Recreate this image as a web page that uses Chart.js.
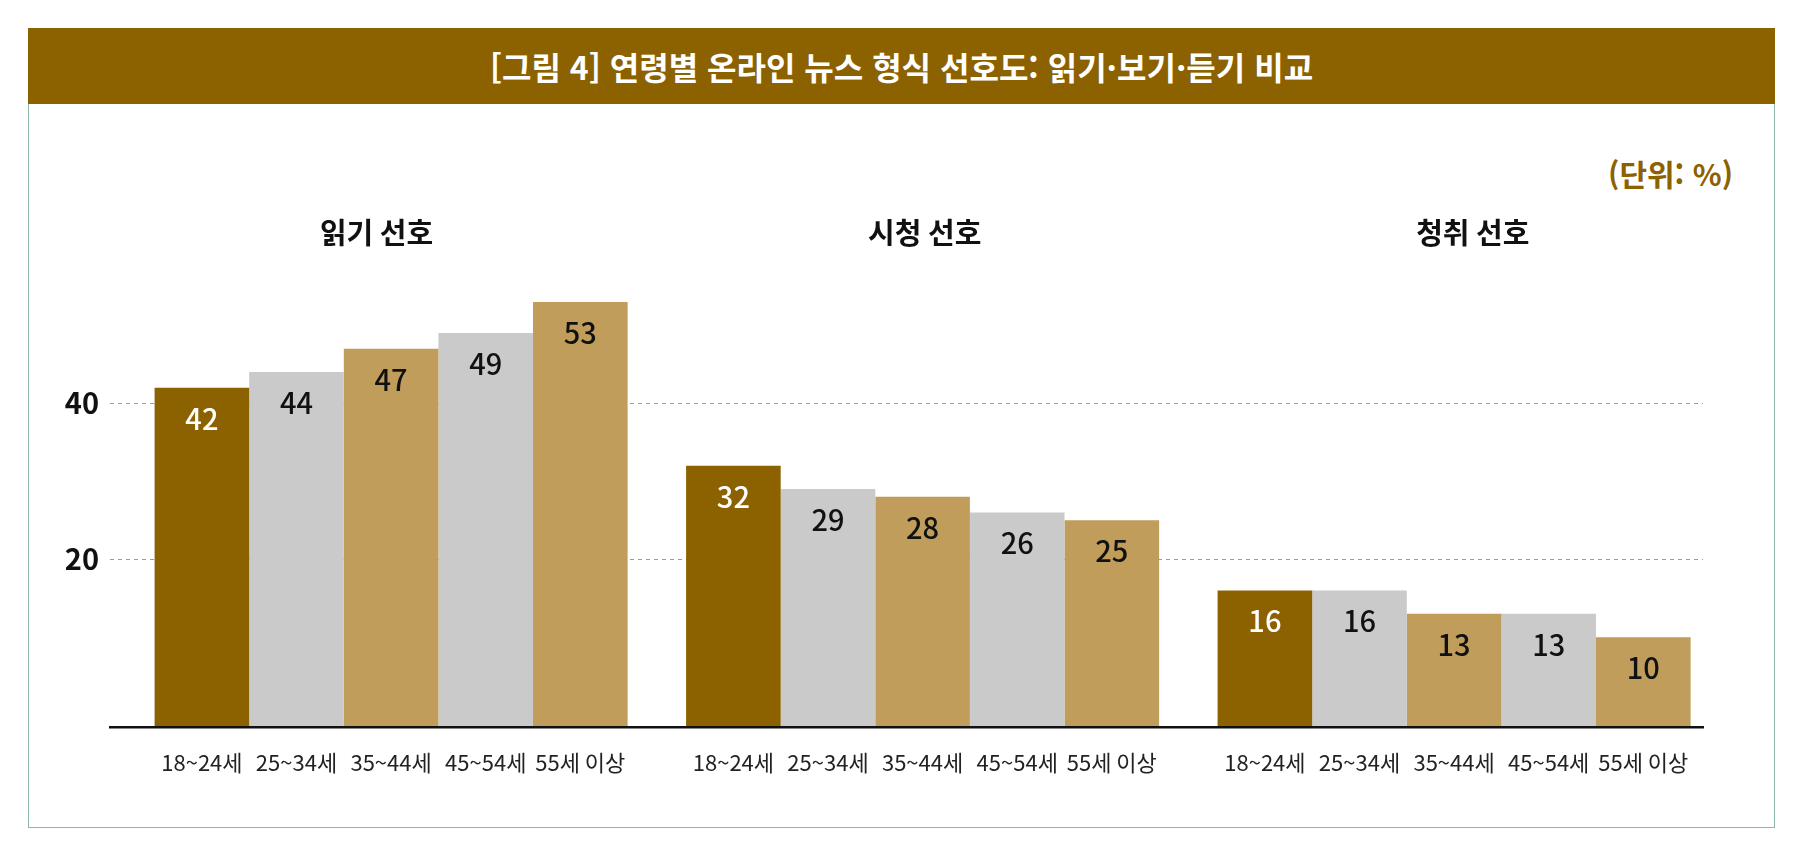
<!DOCTYPE html>
<html lang="ko">
<head>
<meta charset="utf-8">
<script src="https://cdn.jsdelivr.net/npm/chart.js@4.4.1/dist/chart.umd.min.js"></script>
<style>
  body { margin: 0; background: #fff; }
  #wrap { position: relative; width: 1804px; height: 848px; font-family: "Noto Sans CJK KR", "Noto Sans", sans-serif; }
  #frame { position: absolute; left: 28px; top: 28px; width: 1745px; height: 798px; border: 1px solid #8db8a8; }
  #head { position: absolute; left: -1px; right: -1px; top: -1px; height: 76px; background: #8c6200; color: #fff;
          font-weight: 700; font-size: 32px; display: flex; align-items: center; justify-content: center; }
  #unit { position: absolute; right: 71px; top: 155px; line-height: 36px; font-size: 30px; font-weight: 700; color: #8c6200; }
  canvas { position: absolute; left: 0; top: 0; }
</style>
</head>
<body>
<div id="wrap">
  <div id="frame"><div id="head">[그림 4] 연령별 온라인 뉴스 형식 선호도: 읽기·보기·듣기 비교</div></div>
  <div id="unit">(단위: %)</div>
  <canvas id="grafico" width="1804" height="848"></canvas>
</div>
<script>
// groups (x) and age bands (one dataset each)
const grupos = ['읽기 선호', '시청 선호', '청취 선호'];
const edades = ['18~24세', '25~34세', '35~44세', '45~54세', '55세 이상'];

// values per age band, in group order
const v18a24 = [42, 32, 16];
const v25a34 = [44, 29, 16];
const v35a44 = [47, 28, 13];
const v45a54 = [49, 26, 13];
const v55mas = [53, 25, 10];

const ejeY = [20, 40];

const colores = ['#8c6200', '#c9cac9', '#c19d5b', '#c9cac9', '#c19d5b'];
const coloresTexto = ['#ffffff', '#111111', '#111111', '#111111', '#111111'];

const Y_MIN = -1.6;
const FUENTE = '"Noto Sans CJK KR", "Noto Sans", sans-serif';

const valores = [v18a24, v25a34, v35a44, v45a54, v55mas];

let datasets = [];
for (let i = 0; i < edades.length; i++) {
    datasets.push({
        label: edades[i],
        data: valores[i].map((v, j) => ({ x: j, y: v })),
        backgroundColor: colores[i],
        borderWidth: 0,
        barPercentage: 1,
        categoryPercentage: 0.89,
        base: Y_MIN
    });
}

// value inside each bar + age label under it
const textoBarras = {
    id: 'textoBarras',
    afterDatasetsDraw(chart) {
        const ctx = chart.ctx;
        ctx.save();
        ctx.textAlign = 'center';
        ctx.textBaseline = 'middle';
        chart.data.datasets.forEach((ds, i) => {
            chart.getDatasetMeta(i).data.forEach((bar, j) => {
                ctx.font = '500 29px ' + FUENTE;
                ctx.fillStyle = coloresTexto[i];
                ctx.fillText(ds.data[j].y, bar.x, bar.y + 31);
                ctx.font = '400 22px ' + FUENTE;
                ctx.fillStyle = '#222';
                ctx.fillText(ds.label, bar.x, chart.chartArea.bottom + 35);
            });
        });
        ctx.restore();
    }
};

Chart.defaults.font.family = FUENTE;

const ctx = document.getElementById('grafico').getContext('2d');
new Chart(ctx, {
    type: 'bar',
    data: { datasets: datasets },
    options: {
        responsive: false,
        animation: false,
        devicePixelRatio: 1,
        layout: { padding: { left: 0, top: 0, right: 101, bottom: 120.3 } },
        plugins: {
            legend: { display: false },
            tooltip: { enabled: false }
        },
        scales: {
            x: {
                type: 'linear',
                position: 'bottom',
                min: -0.5289,
                max: 2.4683,
                offset: false,
                z: 1,
                afterBuildTicks: s => { s.ticks = grupos.map((g, i) => ({ value: i })); },
                afterFit: s => { s.height = 0; },
                ticks: { display: false },
                grid: { display: false, drawTicks: false, offset: false },
                border: { display: true, color: '#111', width: 2.5, z: 1 }
            },
            x2: {
                type: 'linear',
                position: 'top',
                min: -0.4863,
                max: 2.42,
                offset: false,
                afterBuildTicks: s => { s.ticks = grupos.map((g, i) => ({ value: i })); },
                afterFit: s => { s.height = 247.3; },
                ticks: {
                    padding: 0,
                    maxRotation: 0,
                    color: '#111',
                    font: { size: 29, weight: 'bold', lineHeight: 1.0 },
                    callback: v => grupos[v]
                },
                grid: { display: false, drawTicks: false },
                border: { display: false }
            },
            y: {
                min: Y_MIN,
                max: 60,
                afterBuildTicks: s => { s.ticks = ejeY.map(v => ({ value: v })); },
                afterFit: s => { s.width = 110; },
                ticks: {
                    padding: 11,
                    color: '#111',
                    font: { size: 29, weight: 'bold' }
                },
                grid: { color: '#9a9a9a', lineWidth: 1, drawTicks: false },
                border: { display: false, dash: [4, 4] }
            }
        }
    },
    plugins: [textoBarras]
});
</script>
</body>
</html>
